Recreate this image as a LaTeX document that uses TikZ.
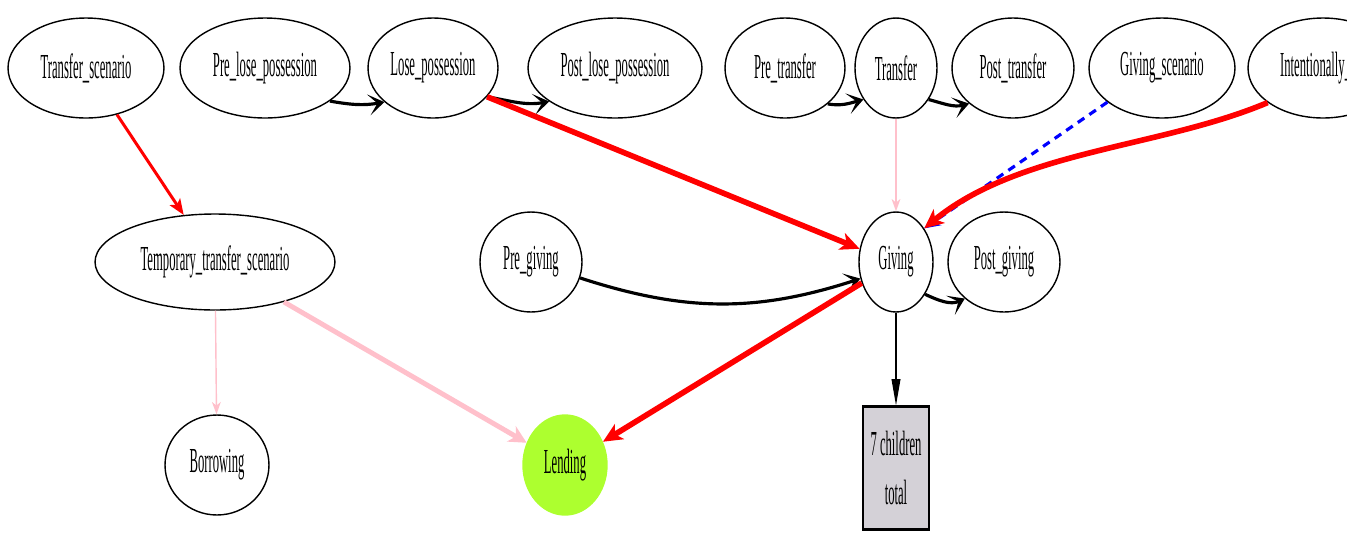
\documentclass[tikz,border=0pt]{standalone}
\usepackage{fontspec}
\setmainfont{Liberation Serif}
\usepackage{graphicx}
\usetikzlibrary{arrows.meta, shapes.geometric}

\definecolor{lendgreen}{RGB}{173,255,47}
\definecolor{boxgray}{RGB}{212,209,215}
\definecolor{edgepink}{RGB}{255,192,203}

\newcommand{\nm}[1]{\scalebox{0.36}[1]{#1}}

\begin{document}
\begin{tikzpicture}[x = 0.02cm, y = -0.02cm,
	frame/.style = {ellipse, draw, line width = 0.8pt, inner sep = 0pt,
		minimum height = 2cm, font = \fontsize{20}{24}\selectfont},
	seq/.style = {line width = 1.8pt, -{Stealth[length = 9pt, width = 12pt, inset = 5pt]}},
	heavyred/.style = {red, line width = 3.2pt, -{Stealth[length = 11pt, width = 10pt, inset = 3pt]}},
	pinkthin/.style = {edgepink, line width = 0.8pt, -{Stealth[length = 7pt, width = 5pt, inset = 2pt]}},
	pinkthick/.style = {edgepink, line width = 2.8pt, -{Stealth[length = 10pt, width = 10pt, inset = 3pt]}}]

	% Canvas

	\path [use as bounding box, clip] (0, 0) rectangle (1347, 532);

	% Top row

	\node [frame, minimum width = 3.12cm] (transfer-scenario) at (86, 68) {\nm{Transfer\_scenario}};
	\node [frame, minimum width = 3.4cm] (pre-lose) at (265, 68) {\nm{Pre\_lose\_possession}};
	\node [frame, minimum width = 2.6cm] (lose) at (433, 68) {\nm{Lose\_possession}};
	\node [frame, minimum width = 3.48cm] (post-lose) at (615, 68) {\nm{Post\_lose\_possession}};
	\node [frame, minimum width = 2.4cm] (pre-transfer) at (785, 68) {\nm{Pre\_transfer}};
	\node [frame, minimum width = 1.64cm] (transfer) at (896, 68) {\nm{Transfer}};
	\node [frame, minimum width = 2.44cm] (post-transfer) at (1013, 68) {\nm{Post\_transfer}};
	\node [frame, minimum width = 2.92cm] (giving-scenario) at (1162, 68) {\nm{Giving\_scenario}};
	\node [frame, minimum width = 3cm] (intentionally) at (1323, 68) {\nm{Intentionally\_act}};

	% Middle row

	\node [frame, minimum width = 4.8cm, minimum height = 1.92cm] (temporary) at (215, 262) {\nm{Temporary\_transfer\_scenario}};
	\node [frame, minimum width = 2.04cm] (pre-giving) at (531, 262) {\nm{Pre\_giving}};
	\node [frame, minimum width = 1.48cm] (giving) at (896, 262) {\nm{Giving}};
	\node [frame, minimum width = 2.24cm] (post-giving) at (1004, 262) {\nm{Post\_giving}};

	% Bottom row

	\node [frame, minimum width = 2.08cm] (borrowing) at (217, 465) {\nm{Borrowing}};
	\node [frame, minimum width = 1.68cm, draw = lendgreen, fill = lendgreen] (lending) at (565, 465) {\nm{Lending}};
	\node [draw, line width = 1.2pt, fill = boxgray, minimum width = 1.32cm, minimum height = 2.46cm,
		inner sep = 0pt, align = center, font = \fontsize{20}{28}\selectfont] (children) at (896, 468)
		{\nm{7 children}\\\nm{total}};

	% Sequence arrows

	\draw [seq] (pre-lose.-27) to [out = -10, in = 190] (lose.-145);
	\draw [seq] (lose.-28) to [out = -10, in = 190] (post-lose.-153);
	\draw [seq] (pre-transfer.-40) to [out = -10, in = 195] (transfer.-136);
	\draw [seq] (transfer.-44) to [out = -15, in = 195] (post-transfer.-141);
	\draw [seq] (pre-giving.-18) to [out = -18, in = 198] (giving.-155);
	\draw [seq] (giving.-48) to [out = -25, in = 205] (post-giving.-137);

	% Pink links

	\draw [pinkthin] (transfer) -- (giving);
	\draw [pinkthin] (temporary) -- (borrowing);
	\draw [pinkthick] (temporary) -- (lending);

	% Dashed link

	\draw [blue, line width = 1.8pt, dash pattern = on 4.5pt off 3.5pt, -{Stealth[length = 9pt, width = 8pt]}]
		(giving-scenario.-148) -- (giving.50);

	% Red links

	\draw [red, line width = 1.7pt, -{Stealth[length = 9pt, width = 7pt, inset = 2pt]}] (transfer-scenario) -- (temporary);
	\draw [heavyred] (lose.-28) -- (giving.160);
	\draw [heavyred] (intentionally.-148) .. controls (1160, 148) and (1020, 150) .. (giving.50);
	\draw [heavyred] (giving) -- (lending);

	% Count box

	\draw [line width = 0.7pt, -{Triangle[length = 15pt, width = 5pt]}] (giving) -- (children);

\end{tikzpicture}
\end{document}
